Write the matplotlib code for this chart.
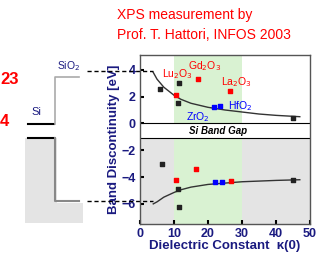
import matplotlib
matplotlib.use("Agg")
import matplotlib.pyplot as plt

plt.rcParams['font.family'] = ['Liberation Sans', 'DejaVu Sans']

# fitted curves (conduction / valence band offsets)
curve_k = [3.9, 5, 7, 10, 12, 15, 20, 25, 30, 35, 40, 47]
curve_cb = [3.8, 3.3, 2.7, 2.1, 1.8, 1.5, 1.2, 1.0, 0.85, 0.7, 0.6, 0.5]
curve_vb = [-6.0, -5.85, -5.5, -5.15, -4.95, -4.75, -4.55, -4.45, -4.35, -4.3, -4.25, -4.2]

# measured points
black_k = [5.8, 11.5, 11.2, 45, 6.6, 11.2, 11.5, 45]
black_e = [2.6, 3.0, 1.5, 0.4, -3.0, -4.9, -6.2, -4.2]
red_k = [10.7, 17.0, 26.6, 10.7, 16.5, 26.8]
red_e = [2.1, 3.3, 2.4, -4.2, -3.4, -4.3]
blue_k = [21.7, 23.5, 22, 24]
blue_e = [1.2, 1.3, -4.4, -4.35]

oxides = ["Lu$_2$O$_3$", "Gd$_2$O$_3$", "La$_2$O$_3$", "HfO$_2$", "ZrO$_2$"]
oxide_k = [6.4, 14.0, 23.8, 25.9, 13.6]
oxide_e = [3.7, 4.3, 3.1, 1.3, 0.45]
oxide_col = ["red", "red", "red", "blue", "blue"]

sio2_cb = 3.9
sio2_vb = -5.8
gap_bottom = -1.1
navy = "#1a1a80"

fig = plt.figure(figsize=(3.18, 2.56), dpi=100)

# band diagram sketch on the left, in pixel coordinates
bg = fig.add_axes([0, 0, 1, 1])
bg.set_xlim(0, 318)
bg.set_ylim(256, 0)
bg.axis('off')
bg.fill([25, 57, 57, 83, 83, 25], [138, 138, 203, 203, 223, 223], color="#e4e4e4", lw=0)
bg.plot([28, 54], [124, 124], color="black", lw=1.5)
bg.plot([28, 54], [138, 138], color="black", lw=1.5)
bg.plot([55, 55, 79], [124, 77, 77], color="#aaaaaa", lw=1.2)
bg.plot([55, 55, 79], [138, 201, 201], color="#888888", lw=1.5)
bg.text(36, 117, "Si", fontsize=8, color=navy, ha='center', va='bottom')
bg.text(69, 73, "SiO$_2$", fontsize=7.5, color=navy, ha='center', va='bottom')
bg.text(0, 80, "23", fontsize=12, color="red", fontweight='bold', ha='left', va='center')
bg.text(0, 122, "4", fontsize=12, color="red", fontweight='bold', ha='left', va='center')
bg.text(117, 15, "XPS measurement by", fontsize=10, color="red", ha='left', va='center')
bg.text(117, 35, "Prof. T. Hattori, INFOS 2003", fontsize=10, color="red", ha='left', va='center')

ax = fig.add_axes([140 / 318, 1 - 224 / 256, 170 / 318, 169 / 256])
ax.set_xlim(0, 50)
ax.set_ylim(-7.5, 5.1)
ax.axhspan(-7.5, gap_bottom, color="#e4e4e4", lw=0, zorder=0)
ax.fill_between([10, 30], 0, 5.1, color="#d9f2d2", lw=0, zorder=0.5)
ax.fill_between([10, 30], -7.5, gap_bottom, color="#d9f2d2", lw=0, zorder=0.5)
ax.axhline(0, color="black", lw=0.8)
ax.axhline(gap_bottom, color="black", lw=0.8)
ax.text(23, -0.55, "Si Band Gap", fontsize=7, style='italic', fontweight='bold',
        ha='center', va='center')

ax.plot(curve_k, curve_cb, color="#333333", lw=1)
ax.plot(curve_k, curve_vb, color="#333333", lw=1)
ax.plot([-15.6, 3.9], [sio2_cb, sio2_cb], color="black", lw=1, ls=(0, (3, 2)), clip_on=False)
ax.plot([-15.6, 3.9], [sio2_vb, sio2_vb], color="black", lw=1, ls=(0, (3, 2)), clip_on=False)

ax.scatter(black_k, black_e, s=5, marker='s', color="#222222", zorder=3)
ax.scatter(red_k, red_e, s=6, marker='s', color="red", zorder=3)
ax.scatter(blue_k, blue_e, s=6, marker='s', color="blue", zorder=3)
for name, k, e, c in zip(oxides, oxide_k, oxide_e, oxide_col):
    ax.text(k, e, name, fontsize=7.5, color=c, ha='left', va='center')

ax.set_xticks([0, 10, 20, 30, 40, 50])
ax.set_yticks([-6, -4, -2, 0, 2, 4])
ax.tick_params(direction='in', length=3, width=1.5, labelsize=9, labelcolor=navy, pad=3)
for lab in ax.get_xticklabels() + ax.get_yticklabels():
    lab.set_fontweight('bold')
for s in ax.spines.values():
    s.set_color("#555555")
    s.set_linewidth(1)
ax.set_ylabel("Band Discontinuity [eV]", fontsize=9.5, fontweight='bold', color=navy, labelpad=1)
ax.set_xlabel("Dielectric Constant  κ(0)", fontsize=9.5, fontweight='bold', color=navy, labelpad=0)

fig.savefig("out.png", dpi=100)
